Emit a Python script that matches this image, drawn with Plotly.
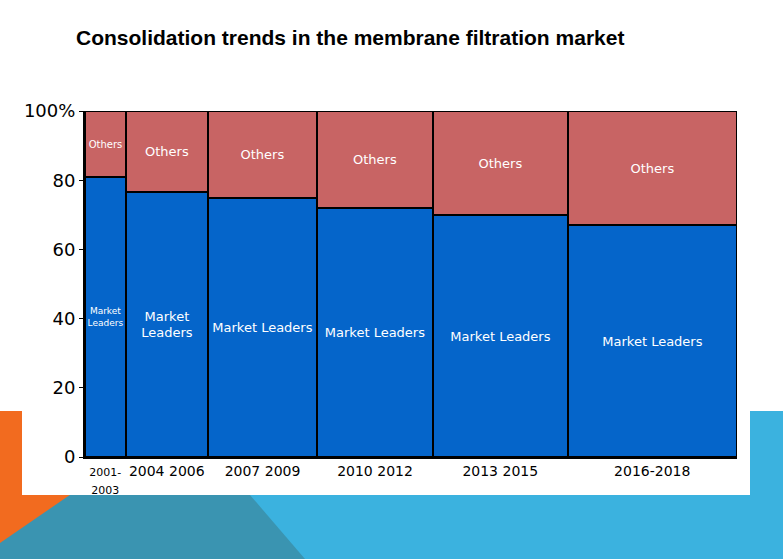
import plotly.graph_objects as go
import numpy as np

# ---- data ----
periods = ["2001-2003", "2004-2006", "2007-2009", "2010-2012", "2013-2015", "2016-2018"]
tick_labels = ["<span style='font-size:11px'>2001-<br>2003</span>", "2004 2006", "2007 2009",
               "2010 2012", "2013 2015", "2016-2018"]
market_size = [40.5, 82.5, 109, 116, 134.5, 169.5]      # column widths (relative market size)
leaders_share = [81, 76.5, 75, 72, 70, 67]               # % Market Leaders
others_share = [19, 23.5, 25, 28, 30, 33]                # % Others
leaders_text = ["Market<br>Leaders", "Market<br>Leaders", "Market Leaders",
                "Market Leaders", "Market Leaders", "Market Leaders"]
leaders_font = [9, 13, 13, 13, 13, 13]
others_font = [10, 13, 13, 13, 13, 13]
y_ticks = [0, 20, 40, 60, 80, 100]
y_ticktext = ["0", "20", "40", "60", "80", "100%"]

widths = np.array(market_size, dtype=float)
edges = np.concatenate([[0], np.cumsum(widths)])
centers = (edges[:-1] + edges[1:]) / 2
total = edges[-1]

BLUE = "#0565CA"
RED = "#C86464"

fig = go.Figure()
fig.add_trace(go.Bar(
    x=centers, y=leaders_share, width=widths, name="Market Leaders",
    marker=dict(color=BLUE, line=dict(color="black", width=2)),
    text=leaders_text, textposition="inside", insidetextanchor="middle",
    textangle=0, constraintext="none",
    textfont=dict(color="white", size=leaders_font, family="DejaVu Sans"),
))
fig.add_trace(go.Bar(
    x=centers, y=others_share, width=widths, name="Others",
    marker=dict(color=RED, line=dict(color="black", width=2)),
    text=["Others"] * len(periods), textposition="inside", insidetextanchor="middle",
    textangle=0, constraintext="none",
    textfont=dict(color="white", size=others_font, family="DejaVu Sans"),
))

# ---- slide background decoration (pixel -> paper) ----
ML, MR, MT, MB = 85, 46, 111, 102
W, H = 783, 559
PW, PH = W - ML - MR, H - MT - MB

def px(x):
    return (x - ML) / PW

def py(y):
    return (H - MB - y) / PH

def poly(pts):
    return "M " + " L ".join(f"{px(a):.5f},{py(b):.5f}" for a, b in pts) + " Z"

shapes = [
    dict(type="path", path=poly([(0, 411), (783, 411), (783, 559), (0, 559)]),
         fillcolor="#3BB2DF", line=dict(width=0), xref="paper", yref="paper", layer="below"),
    dict(type="path", path=poly([(0, 411), (178, 411), (305, 559), (0, 559)]),
         fillcolor="#3A94B1", line=dict(width=0), xref="paper", yref="paper", layer="below"),
    dict(type="path", path=poly([(0, 411), (192, 411), (0, 543)]),
         fillcolor="#F26B1F", line=dict(width=0), xref="paper", yref="paper", layer="below"),
    dict(type="path", path=poly([(22, 0), (750, 0), (750, 495), (22, 495)]),
         fillcolor="white", line=dict(width=0), xref="paper", yref="paper", layer="below"),
]

fig.update_layout(
    width=W, height=H,
    margin=dict(l=ML, r=MR, t=MT, b=MB),
    barmode="stack", bargap=0,
    showlegend=False,
    paper_bgcolor="white", plot_bgcolor="rgba(0,0,0,0)",
    shapes=shapes,
    title=dict(text="<b>Consolidation trends in the membrane filtration market</b>",
               x=76 / W, xanchor="left", xref="container",
               y=1 - 38 / H, yanchor="middle", yref="container",
               font=dict(family="Liberation Sans", size=21, color="black")),
    font=dict(family="DejaVu Sans", color="black"),
)
fig.update_xaxes(range=[0, total], tickvals=centers, ticktext=tick_labels,
                 showgrid=False, zeroline=False, showline=True, linecolor="black",
                 linewidth=2, ticks="", tickfont=dict(size=14, family="DejaVu Sans", color="black"))
fig.update_yaxes(range=[0, 100], tickvals=y_ticks, ticktext=y_ticktext,
                 showgrid=False, zeroline=False, showline=True, linecolor="black",
                 linewidth=2, ticks="outside", ticklen=4, tickcolor="black",
                 tickfont=dict(size=18, family="DejaVu Sans", color="black"))

fig.write_html("out.html", config={"displayModeBar": False},
               post_script="document.body.style.margin='0px';document.body.style.overflow='hidden';")
